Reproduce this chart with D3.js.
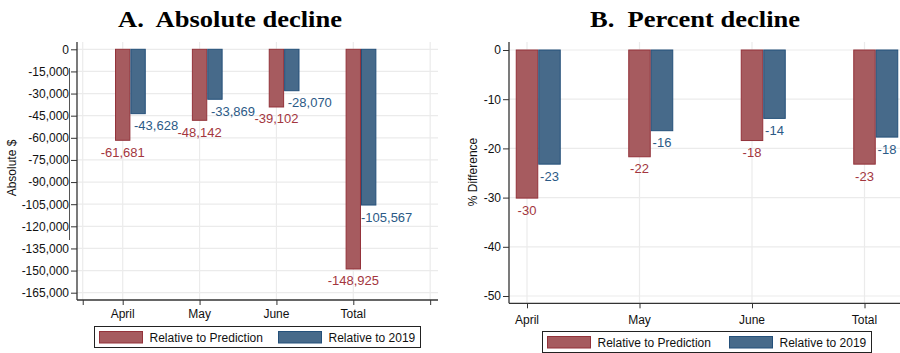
<!DOCTYPE html>
<html>
<head>
<meta charset="utf-8">
<script src="https://cdn.jsdelivr.net/npm/d3@7"></script>
<style>
  html, body { margin: 0; padding: 0; background: #fff; }
  svg { display: block; }
  text { white-space: pre; }
</style>
</head>
<body>
<svg id="chart" width="900" height="353"></svg>
<script>
// ---------------- DATA ----------------
const categories = ["April", "May", "June", "Total"];
const seriesNames = ["Relative to Prediction", "Relative to 2019"];

const absPrediction = [-61681, -48142, -39102, -148925];
const abs2019 = [-43628, -33869, -28070, -105567];

const pctPrediction = [-30.1, -21.7, -18.4, -23.2];
const pct2019 = [-23.2, -16.4, -13.9, -17.7];

const absTicks = [0, -15000, -30000, -45000, -60000, -75000, -90000, -105000, -120000, -135000, -150000, -165000];
const pctTicks = [0, -10, -20, -30, -40, -50];

// ---------------- STYLE ----------------
const redFill = "#a65b5f", redStroke = "#93323a", redText = "#a3363e";
const blueFill = "#476a8a", blueStroke = "#24507a", blueText = "#2b5a86";
const gridColor = "#ebebeb";
const axisColor = "#333";
const sans = "'Liberation Sans', Arial, sans-serif";
const serif = "'Liberation Serif', 'Times New Roman', serif";

const loc = d3.formatLocale({decimal: ".", thousands: ",", grouping: [3], currency: ["$", ""], minus: "-"});
const fmtThousands = loc.format(",");
const fmtInt = loc.format(".0f");

const svg = d3.select("#chart");

function drawPanel(o) {
  const g = svg.append("g");
  const y = d3.scaleLinear().domain(o.yDomain).range(o.yRange);
  const x = d3.scaleLinear().domain([0, categories.length - 1]).range(o.xRange);
  const step = x(1) - x(0);
  const bw = step * 0.2;

  // title
  g.append("text").attr("x", o.titleX).attr("y", 27).attr("text-anchor", "middle")
    .attr("font-family", serif).attr("font-weight", "bold").attr("font-size", 24)
    .attr("textLength", o.titleW).attr("lengthAdjust", "spacingAndGlyphs")
    .attr("fill", "#000").text(o.title);

  // horizontal gridlines
  g.selectAll(".hg").data(o.yTicks).join("line")
    .attr("x1", o.frame.left).attr("x2", o.frame.right)
    .attr("y1", d => y(d)).attr("y2", d => y(d))
    .attr("stroke", gridColor).attr("stroke-width", 1.2);

  // vertical gridlines
  g.selectAll(".vg").data(o.xGrid).join("line")
    .attr("x1", d => x(d)).attr("x2", d => x(d))
    .attr("y1", o.frame.top).attr("y2", o.frame.bottom)
    .attr("stroke", gridColor).attr("stroke-width", 1.2);

  // bars
  const series = [
    {vals: o.pred, fill: redFill, stroke: redStroke, text: redText, off: 0, lab: o.redLabOff},
    {vals: o.base, fill: blueFill, stroke: blueStroke, text: blueText, off: 1, lab: o.blueLabOff}
  ];
  series.forEach(s => {
    g.selectAll(null).data(s.vals).join("rect")
      .attr("x", (d, i) => x(i) - bw / 2 + s.off * bw + 0.5)
      .attr("y", d => y(0))
      .attr("width", bw - 1)
      .attr("height", d => y(d) - y(0))
      .attr("fill", s.fill).attr("stroke", s.stroke).attr("stroke-width", 1);
    g.selectAll(null).data(s.vals).join("text")
      .attr("x", (d, i) => x(i) + s.off * bw + s.lab)
      .attr("y", d => y(d) + 16.5)
      .attr("text-anchor", "middle")
      .attr("font-family", sans).attr("font-size", 13)
      .attr("fill", s.text)
      .text(d => o.fmt(d));
  });

  // y axis
  const yAxis = d3.axisLeft(y).tickValues(o.yTicks).tickSize(6).tickPadding(2).tickFormat(o.tickFmt);
  const ya = g.append("g").attr("transform", `translate(${o.frame.left},0)`).call(yAxis);
  ya.select(".domain").remove();
  ya.selectAll(".tick line").attr("stroke", axisColor);
  ya.selectAll(".tick text").attr("font-family", sans).attr("font-size", 12).attr("fill", "#111");
  g.append("line").attr("x1", o.frame.left).attr("x2", o.frame.left)
    .attr("y1", o.frame.top).attr("y2", o.frame.bottom)
    .attr("stroke", axisColor).attr("stroke-width", 1.3);

  // x axis
  const xa = g.append("g").attr("transform", `translate(0,${o.frame.bottom})`)
    .call(d3.axisBottom(x).tickValues(o.xGrid).tickSize(5).tickFormat(""));
  xa.select(".domain").remove();
  xa.selectAll(".tick line").attr("stroke", axisColor);
  g.append("line").attr("x1", o.frame.left).attr("x2", o.frame.right)
    .attr("y1", o.frame.bottom).attr("y2", o.frame.bottom)
    .attr("stroke", axisColor).attr("stroke-width", 1.3);

  // category labels
  g.selectAll(null).data(categories).join("text")
    .attr("x", (d, i) => x(i)).attr("y", o.frame.bottom + o.catDy)
    .attr("text-anchor", "middle").attr("font-family", sans).attr("font-size", 12)
    .attr("fill", "#111").text(d => d);

  // y axis title
  g.append("text").attr("transform", `translate(${o.yTitleX},${o.yTitleY}) rotate(-90)`)
    .attr("text-anchor", "middle").attr("font-family", sans).attr("font-size", 12)
    .attr("fill", "#111").text(o.yTitle);

  // legend
  const L = o.legend;
  g.append("rect").attr("x", L.x).attr("y", L.y).attr("width", L.w).attr("height", L.h)
    .attr("fill", "#fff").attr("stroke", "#222").attr("stroke-width", 1);
  const items = [{name: seriesNames[0], fill: redFill, stroke: redStroke, x: L.sw1},
                 {name: seriesNames[1], fill: blueFill, stroke: blueStroke, x: L.sw2}];
  items.forEach(it => {
    g.append("rect").attr("x", it.x).attr("y", L.y + 5).attr("width", 43).attr("height", 11.5)
      .attr("fill", it.fill).attr("stroke", it.stroke).attr("stroke-width", 1);
    g.append("text").attr("x", it.x + 50).attr("y", L.y + 15)
      .attr("font-family", sans).attr("font-size", 12).attr("fill", "#111").text(it.name);
  });
}

drawPanel({
  title: "A.  Absolute decline", titleX: 230, titleW: 224,
  yDomain: [0, -165000], yRange: [49.3, 292.7], yTicks: absTicks,
  xRange: [122.7, 353.3], xGrid: [-0.52, 0, 1, 2, 3, 4],
  frame: {left: 77, right: 438, top: 42, bottom: 300},
  pred: absPrediction, base: abs2019,
  fmt: d => fmtThousands(d), tickFmt: d => fmtThousands(d),
  redLabOff: 0, blueLabOff: 18,
  catDy: 18, yTitle: "Absolute $", yTitleX: 16, yTitleY: 168,
  legend: {x: 94.5, y: 326.5, w: 326, h: 21, sw1: 99.5, sw2: 278.5}
});

drawPanel({
  title: "B.  Percent decline", titleX: 695, titleW: 210,
  yDomain: [0, -50], yRange: [50, 296], yTicks: pctTicks,
  xRange: [527, 864.5], xGrid: [0, 1, 2, 3],
  frame: {left: 509, right: 905, top: 42, bottom: 303.3},
  pred: pctPrediction, base: pct2019,
  fmt: d => fmtInt(d), tickFmt: d => fmtInt(d),
  redLabOff: 0, blueLabOff: 0,
  catDy: 21, yTitle: "% Difference", yTitleX: 477, yTitleY: 172,
  legend: {x: 542.5, y: 331.5, w: 329, h: 21, sw1: 547.5, sw2: 729.5}
});

// faint artifact line left of the first axis, as in the reference
svg.append("line").attr("x1", 69.5).attr("x2", 69.5).attr("y1", 68).attr("y2", 240)
  .attr("stroke", "#555").attr("stroke-width", 1);
</script>
</body>
</html>
